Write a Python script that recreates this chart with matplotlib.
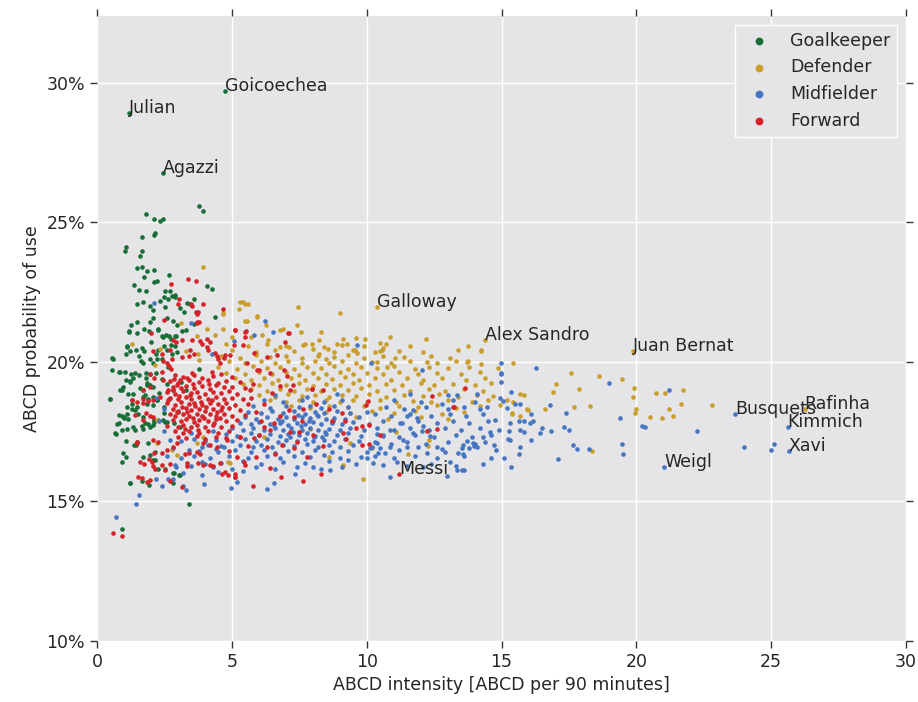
import matplotlib
matplotlib.use("Agg")
import matplotlib.pyplot as plt
from matplotlib.ticker import FuncFormatter

# ---------------- data (x: ABCD per 90 min, y: probability in %) ----------------
categories = ["Goalkeeper", "Defender", "Midfielder", "Forward"]
colors = ["#176e36", "#c99e2c", "#4676c2", "#d4242a"]

gk_pts = [
(4.75,29.70),(1.19,28.91),(2.45,26.76),(3.79,25.60),(3.93,25.42),(1.83,25.29),(2.13,25.11),(2.32,25.04),(2.44,25.11),
(1.67,24.47),(2.13,24.56),(2.15,24.61),(1.09,24.13),(1.04,23.97),(1.68,23.99),(1.61,23.81),(1.50,23.37),(1.67,23.39),
(1.87,23.26),(2.13,23.30),(1.74,23.06),(2.67,23.12),(2.10,22.85),(2.21,22.91),(1.38,22.75),(1.56,22.58),(1.80,22.56),
(4.09,22.73),(4.26,22.62),(2.52,22.54),(2.71,22.54),(2.62,22.25),(2.47,22.34),(2.78,22.36),(2.88,22.39),(2.90,22.32),
(3.60,22.27),(1.71,22.16),(1.48,22.07),(1.95,21.99),(2.06,21.86),(2.32,22.17),(2.52,21.96),(3.07,21.95),(3.35,22.10),
(3.46,22.07),(3.21,21.80),(4.38,21.63),(1.25,21.33),(1.48,21.42),(1.98,21.42),(2.08,21.58),(1.17,21.11),(1.50,21.05),
(1.76,21.18),(1.93,21.11),(2.25,21.20),(2.40,20.93),(2.45,20.90),(2.57,20.97),(2.68,20.94),(2.89,20.92),(2.97,21.33),
(3.31,21.15),(2.00,20.73),(1.11,20.56),(1.67,20.50),(2.47,20.58),(2.74,20.62),(2.90,20.57),(3.58,21.35),(2.58,21.57),
(2.81,21.46),(2.27,21.16),(3.14,21.11),(2.93,20.92),(2.73,20.83),(1.10,20.52),(1.07,20.30),(1.22,20.40),(1.45,20.44),
(1.74,20.40),(2.17,20.30),(2.27,20.42),(2.58,20.44),(2.77,20.30),(2.98,20.35),(0.61,20.12),(1.57,20.21),(1.65,20.03),
(1.72,19.95),(1.97,20.12),(2.09,19.97),(2.21,20.11),(2.40,20.12),(2.65,19.82),(0.54,19.73),(0.83,19.65),(1.04,19.65),
(1.25,19.56),(1.41,19.61),(1.57,19.53),(1.82,19.61),(1.82,19.41),(1.97,19.56),(1.07,19.37),(1.22,19.32),(1.35,19.41),
(1.84,19.23),(1.97,19.17),(2.09,19.11),(0.85,18.99),(0.98,19.11),(1.16,18.85),(1.29,18.63),(1.35,18.87),(1.72,18.99),
(1.72,18.75),(1.90,18.69),(2.09,18.75),(0.48,18.69),(1.10,18.39),(1.29,18.33),(1.47,18.39),(1.84,18.51),(2.09,18.45),
(2.21,18.63),(0.91,18.06),(1.10,18.15),(1.53,18.13),(1.72,18.03),(3.77,19.76),(0.80,18.09),(1.00,18.03),(1.15,17.97),
(0.75,17.79),(0.93,17.58),(1.13,17.60),(1.35,17.67),(1.41,17.56),(1.66,17.70),(1.69,17.60),(1.90,17.79),(2.09,17.73),
(2.11,17.84),(2.27,17.91),(2.46,17.91),(2.58,17.85),(0.70,17.41),(1.07,17.18),(1.44,17.02),(1.90,17.08),(0.95,16.75),
(1.07,16.61),(0.93,16.43),(1.72,16.61),(1.97,16.67),(2.09,16.49),(2.15,16.78),(2.27,16.15),(2.52,16.18),(3.08,15.95),
(2.83,16.03),(1.22,15.68),(1.66,15.75),(1.94,15.59),(2.83,15.65),(3.42,14.91),(0.91,14.03),(1.21,15.67),(1.17,21.08),
(0.56,20.13),(0.87,19.65),(1.24,19.29),(0.49,18.69),(0.93,18.99),(1.61,19.05),(1.85,19.17),(1.79,18.81),(1.30,18.51),
(1.42,18.28),(0.99,17.98),(0.80,17.80),(0.68,17.44),(1.48,17.14),(1.36,17.02),(1.98,17.68),(2.10,17.91),(1.79,17.82),
(2.47,18.16),(2.66,18.69),(2.22,18.63),(2.53,17.86),(2.84,17.80),(3.09,17.68),(3.03,15.95),(2.84,16.01),(2.16,16.48),
(2.20,19.60),(2.40,19.40),(2.60,19.20),(2.80,19.00),(2.30,18.90),(2.50,18.40),(3.00,18.20),(3.10,19.30),(3.30,19.00),
]

df_pts = [
(10.37,21.97),(14.39,20.78),(19.86,20.40),(26.24,18.32),
(13.77,20.04),(14.23,19.93),(15.41,19.98),(14.88,19.80),(17.56,19.60),(18.62,19.51),(19.47,19.39),(17.02,19.22),
(16.90,18.92),(17.87,19.04),(15.68,18.84),(15.82,18.81),(19.90,19.07),(19.89,18.73),(20.74,18.90),(21.08,18.89),
(21.74,19.00),(21.64,18.50),(22.81,18.46),(21.22,18.31),(19.99,18.30),(19.94,18.18),(20.50,18.03),(20.95,18.00),
(21.35,18.05),(18.30,18.42),(17.69,18.39),(16.61,18.33),(15.93,18.30),(16.00,18.28),(15.70,18.05),(15.40,18.13),
(15.39,18.18),(18.37,16.80),(14.95,18.47),(15.19,18.62),(15.44,18.58),(13.77,20.58),(14.23,20.42),
(7.45,21.96),(9.00,21.77),(7.43,21.32),(7.56,21.09),(8.31,21.09),(9.95,20.84),(10.86,20.88),(12.20,20.81),(8.24,20.78),
(10.49,20.68),(10.60,20.50),(10.50,20.40),(9.13,20.84),(11.06,20.16),(13.39,20.43),(14.23,20.39),(13.73,20.00),(12.22,20.00),
(3.94,23.41),(3.13,21.41),(4.66,21.72),(4.67,21.20),(5.28,21.90),(5.31,22.15),(5.50,22.08),(5.93,21.63),(5.49,21.48),
(1.29,20.63),(6.91,21.17),(9.61,20.85),(5.43,22.15),(5.61,22.09),(5.92,21.64),(5.58,21.47),(6.25,21.33),(6.79,21.16),
(5.70,20.90),(6.11,20.96),(6.35,20.80),(6.79,20.52),(7.13,20.52),(7.65,20.60),(7.96,20.66),(8.58,20.48),(8.89,20.66),
(9.27,20.66),(9.57,20.42),(9.63,20.33),(10.56,20.42),(8.24,20.30),(8.49,20.12),(10.37,20.00),(10.74,19.82),
(4.07,21.18),(4.68,21.74),(4.37,20.98),(3.70,20.94),(2.34,20.48),(3.30,20.38),(3.76,20.30),(4.99,20.89),(2.16,19.89),
(3.77,20.07),(2.22,17.91),(2.21,17.08),(2.95,16.66),(4.85,16.40),(3.94,17.32),(2.78,16.84),(3.71,17.08),(4.94,16.37),
(6.20,17.30),(7.90,17.60),(9.40,17.10),(11.10,17.50),(12.30,17.20),(10.20,16.90),(8.60,16.60),(9.13,16.30),(9.87,15.80),
(11.54,16.72),(12.28,17.00),
(4.80,20.63),(5.60,20.57),(6.30,20.66),(7.00,20.58),(7.70,20.64),(8.40,20.55),(9.10,20.62),(9.90,20.57),(10.70,20.65),(11.60,20.56),
(5.00,20.42),(5.90,20.36),(6.60,20.44),(7.30,20.38),(8.00,20.45),(8.80,20.35),(9.50,20.43),(10.30,20.37),(11.20,20.41),(12.10,20.36),
(4.60,20.22),(5.30,20.16),(5.90,20.24),(6.40,20.17),(7.00,20.23),(7.60,20.15),(8.20,20.22),(8.80,20.18),(9.30,20.25),(9.90,20.16),
(10.60,20.21),(11.40,20.17),(12.40,20.23),(13.10,20.15),
(4.90,20.02),(5.50,19.96),(6.10,20.04),(6.60,19.97),(7.10,20.03),(7.60,19.95),(8.10,20.02),(8.60,19.98),(9.10,20.05),(9.60,19.96),
(10.20,20.01),(10.90,19.97),(11.60,20.04),(12.60,19.96),(13.30,20.02),
(4.50,19.82),(5.20,19.76),(5.80,19.84),(6.30,19.77),(6.80,19.83),(7.30,19.75),(7.80,19.82),(8.30,19.78),(8.80,19.85),(9.30,19.76),
(9.80,19.81),(10.40,19.77),(11.00,19.84),(11.80,19.76),(12.30,19.82),(13.00,19.77),(13.80,19.83),
(4.80,19.62),(5.50,19.56),(6.00,19.64),(6.50,19.57),(7.00,19.63),(7.50,19.55),(8.00,19.62),(8.50,19.58),(9.00,19.65),(9.50,19.56),
(10.00,19.61),(10.60,19.57),(11.20,19.64),(11.90,19.56),(12.60,19.62),(13.50,19.57),(14.20,19.63),
(5.10,19.42),(5.70,19.36),(6.20,19.44),(6.70,19.37),(7.20,19.43),(7.70,19.35),(8.20,19.42),(8.70,19.38),(9.20,19.45),(9.70,19.36),
(10.30,19.41),(10.90,19.37),(11.50,19.44),(12.10,19.36),(12.80,19.42),(13.70,19.37),(14.40,19.43),
(5.40,19.22),(6.00,19.16),(6.50,19.24),(7.00,19.17),(7.50,19.23),(8.00,19.15),(8.50,19.22),(9.00,19.18),(9.50,19.25),(10.10,19.16),
(10.70,19.21),(11.30,19.17),(12.00,19.24),(12.50,19.16),(13.20,19.22),(14.00,19.17),(14.60,19.23),
(5.70,19.02),(6.30,18.96),(6.80,19.04),(7.30,18.97),(7.80,19.03),(8.30,18.95),(8.80,19.02),(9.30,18.98),(9.80,19.05),(10.40,18.96),
(11.00,19.01),(11.60,18.97),(12.30,19.04),(12.90,18.96),(13.60,19.02),(14.30,18.97),
(6.00,18.82),(6.60,18.76),(7.10,18.84),(7.60,18.77),(8.10,18.83),(8.60,18.75),(9.10,18.82),(9.60,18.78),(10.10,18.85),(10.70,18.76),
(11.40,18.81),(12.10,18.77),(12.70,18.84),(13.40,18.76),(14.10,18.82),(14.70,18.77),
(6.40,18.62),(7.00,18.56),(7.50,18.64),(8.00,18.57),(8.50,18.63),(9.00,18.55),(9.50,18.62),(10.00,18.58),(10.50,18.65),(11.10,18.56),
(11.70,18.61),(12.40,18.57),(13.00,18.64),(13.90,18.56),(14.50,18.62),
(7.20,18.42),(7.90,18.36),(8.60,18.44),(9.30,18.37),(9.90,18.43),(10.50,18.35),(11.20,18.42),(11.90,18.38),(12.60,18.45),(13.30,18.36),(14.20,18.41),
(8.50,18.22),(9.40,18.16),(10.20,18.24),(11.00,18.17),(11.80,18.23),(12.80,18.15),(13.60,18.22),
(9.60,18.02),(10.80,17.96),(12.00,18.04),(13.00,17.97),
]

mf_pts = [
(21.04,16.23),(23.67,18.12),(25.61,17.68),(25.66,16.82),
(14.98,19.97),(16.29,19.77),(14.97,19.56),(14.99,19.28),(18.98,19.25),(21.22,19.01),(15.35,18.91),(15.04,18.60),
(15.67,18.48),(15.50,18.48),(16.80,18.45),(15.21,18.36),(17.39,18.18),(16.08,18.12),(19.40,17.99),(15.65,17.90),
(15.85,17.89),(16.17,17.87),(16.07,17.82),(15.33,17.82),(17.32,17.66),(16.49,17.65),(17.51,17.57),(15.68,17.55),
(15.28,17.54),(15.82,17.48),(16.82,17.52),(16.41,17.47),(16.08,17.22),(15.25,17.25),(15.30,17.21),(17.64,17.02),
(17.81,16.89),(18.23,16.89),(15.68,16.97),(19.48,17.07),(19.51,16.70),(15.65,16.71),(15.11,16.56),(17.09,16.52),
(15.37,16.24),(20.20,17.70),(20.33,17.66),(22.26,17.53),(24.01,16.96),(25.00,16.84),(25.09,17.06),(13.72,17.17),
(13.99,17.00),(14.10,16.94),(14.74,17.04),(13.61,16.12),(13.56,16.71),(13.52,16.90),
(0.72,14.44),(1.45,14.91),(1.55,15.23),(2.40,15.55),(3.30,15.41),(3.18,15.55),(3.97,15.62),(4.98,15.50),(5.20,15.70),
(6.29,15.45),(6.56,15.68),(7.33,15.97),(8.00,16.24),(8.64,16.12),(10.86,15.88),(12.97,15.91),(13.36,16.12),(9.32,16.48),
(2.83,15.80),(2.65,15.80),(2.19,15.80),(2.93,16.24),
(9.65,20.60),(10.15,19.97),(12.04,19.71),(14.99,19.60),(14.95,18.72),(12.78,18.51),(13.34,18.81),(14.08,18.87),
(14.46,18.40),(14.76,17.92),(14.57,17.50),(14.33,17.32),(13.96,17.09),(13.59,17.03),(13.40,16.73),(13.09,16.43),
(13.53,16.12),(12.90,16.79),(12.59,16.97),(12.35,17.33),(12.10,17.69),(11.85,18.00),(11.73,18.29),(11.48,18.05),
(11.23,17.81),(10.86,17.57),(10.61,17.33),(10.37,17.09),(10.12,16.91),(10.00,16.55),(10.43,16.73),(10.86,16.97),
(11.36,17.21),(11.73,17.45),(12.04,17.51),(11.48,16.97),(12.22,16.73),(12.10,16.25),(11.11,16.43),(10.67,16.73),(10.24,16.37),
(2.11,22.10),(3.47,21.38),(6.23,21.46),(5.82,20.98),(6.54,21.06),(5.09,20.74),(4.25,20.30),
(4.30,16.22),(5.00,16.17),(5.90,16.24),(6.60,16.16),(7.40,16.23),(8.30,16.18),(9.10,16.25),
(3.90,16.42),(4.60,16.37),(5.40,16.44),(6.10,16.36),(6.90,16.43),(7.70,16.38),(8.60,16.45),(9.60,16.36),
(3.60,16.62),(4.20,16.56),(4.90,16.64),(5.60,16.57),(6.30,16.63),(6.80,16.55),(7.30,16.62),(7.90,16.58),(8.40,16.65),(9.00,16.56),(9.80,16.61),
(3.80,16.82),(4.50,16.76),(5.10,16.84),(5.70,16.77),(6.20,16.83),(6.60,16.75),(7.10,16.82),(7.60,16.78),(8.10,16.85),(8.70,16.76),(9.30,16.81),(10.00,16.77),
(4.10,17.02),(4.70,16.96),(5.30,17.04),(5.80,16.97),(6.10,17.03),(6.50,16.95),(6.90,17.02),(7.30,16.98),(7.80,17.05),(8.20,16.96),(8.60,17.01),(9.00,16.97),(9.50,17.04),(10.20,16.96),
(4.40,17.22),(5.00,17.16),(5.50,17.24),(5.90,17.17),(6.30,17.23),(6.70,17.15),(7.00,17.22),(7.40,17.18),(7.70,17.25),(8.00,17.16),(8.40,17.21),(8.80,17.17),(9.20,17.24),(9.70,17.16),
(4.80,17.42),(5.20,17.36),(5.70,17.44),(6.00,17.37),(6.40,17.43),(6.80,17.35),(7.10,17.42),(7.50,17.38),(7.80,17.45),(8.10,17.36),(8.50,17.41),(8.90,17.37),(9.30,17.44),(9.80,17.36),(10.40,17.42),
(5.00,17.62),(5.40,17.56),(5.80,17.64),(6.20,17.57),(6.60,17.63),(6.90,17.55),(7.20,17.62),(7.60,17.58),(7.90,17.65),(8.20,17.56),(8.60,17.61),(9.00,17.57),(9.40,17.64),(9.90,17.56),
(5.30,17.82),(5.70,17.76),(6.00,17.84),(6.40,17.77),(6.80,17.83),(7.10,17.75),(7.40,17.82),(7.70,17.78),(8.00,17.85),(8.30,17.76),(8.70,17.81),(9.10,17.77),(9.50,17.84),(10.10,17.76),
(5.50,18.02),(5.90,17.96),(6.30,18.04),(6.70,17.97),(7.00,18.03),(7.30,17.95),(7.60,18.02),(7.90,17.98),(8.20,18.05),(8.50,17.96),(8.80,18.01),(9.20,17.97),(9.70,18.04),
(5.60,18.22),(6.10,18.16),(6.50,18.24),(6.90,18.17),(7.30,18.23),(7.70,18.15),(8.10,18.22),(8.40,18.18),(8.90,18.25),(9.40,18.16),(10.00,18.21),
(5.80,18.42),(6.40,18.36),(7.00,18.44),(7.50,18.37),(7.90,18.43),(8.30,18.35),(8.80,18.42),(9.30,18.38),
(6.20,18.62),(6.90,18.56),(7.60,18.64),(8.40,18.57),(9.10,18.63),(6.60,18.82),(7.80,18.76),(8.90,18.84),
(7.25,17.50),(7.55,17.70),(7.85,17.90),(8.15,18.10),(8.45,17.50),(7.45,18.10),(8.75,17.90),(7.15,17.30),(8.35,17.30),(6.55,17.70),(6.85,17.90),(8.05,17.30),
(3.20,16.02),(3.90,15.96),(4.50,16.05),(2.90,16.32),(3.50,16.26),(4.00,16.34),(2.60,16.62),(3.10,16.57),(2.80,16.92),(3.40,16.86),
(3.90,16.94),(4.40,16.88),(2.70,17.22),(3.10,17.16),(3.60,17.24),(4.00,17.17),(2.50,17.52),(3.50,17.46),(4.30,17.54),(2.30,17.90),
(2.50,18.30),(2.20,18.70),(4.60,17.00),(5.40,16.10),
(10.60,16.32),(11.50,16.27),(12.40,16.34),(13.30,16.26),(14.30,16.33),
(10.30,16.62),(11.00,16.56),(11.80,16.64),(12.60,16.57),(13.60,16.63),(14.60,16.55),
(10.50,16.92),(11.20,16.86),(11.90,16.94),(12.80,16.87),(13.80,16.93),(14.80,16.86),
(10.30,17.12),(10.90,17.06),(11.50,17.14),(12.20,17.07),(13.00,17.13),(14.00,17.05),(14.40,17.12),
(10.60,17.37),(11.20,17.31),(11.80,17.39),(12.50,17.32),(13.30,17.38),(13.90,17.30),(14.60,17.37),
(10.40,17.62),(11.00,17.56),(11.60,17.64),(12.30,17.57),(12.90,17.63),(13.50,17.55),(14.20,17.62),(14.90,17.58),
(10.60,17.87),(11.30,17.81),(11.90,17.89),(12.60,17.82),(13.20,17.88),(13.80,17.80),(14.50,17.87),
(10.30,18.12),(10.90,18.06),(11.60,18.14),(12.40,18.07),(13.10,18.13),(13.70,18.05),(14.30,18.12),
(10.70,18.37),(11.40,18.31),(12.20,18.39),(13.00,18.32),(13.60,18.38),(14.20,18.30),
(11.00,18.62),(12.00,18.56),(13.20,18.64),(14.00,18.57),(11.60,18.87),(13.00,18.82),
]

fw_pts = [
(11.21,15.97),(0.60,13.88),(0.91,13.76),(3.14,15.53),(5.77,15.55),(6.82,15.88),(7.63,15.73),(4.62,16.00),(5.12,15.97),
(10.10,17.74),(9.81,17.71),(10.49,17.37),(12.25,17.51),(12.60,17.60),(12.41,18.78),(13.21,18.39),(13.66,19.07),(13.24,18.37),
(9.81,17.04),(10.10,17.05),(9.96,18.45),(9.10,18.18),(9.21,17.88),(8.71,17.88),(9.62,17.62),(9.23,17.23),(9.11,17.46),
(8.39,18.99),(7.97,19.04),(8.12,18.50),(7.65,18.31),(7.30,18.03),(7.28,19.16),(8.39,17.00),(8.29,16.00),(7.48,17.50),
(7.40,17.14),(5.49,21.08),(7.09,21.04),(5.42,20.60),(6.31,20.18),(5.92,19.73),(7.03,19.49),(6.79,19.13),(7.96,19.03),
(5.67,18.99),(10.04,18.60),(6.79,18.06),
(3.05,22.27),(3.00,22.09),(3.47,22.07),(3.52,22.00),(3.94,22.08),(3.67,21.78),(3.72,21.73),(4.68,21.90),(2.50,21.52),
(2.00,21.03),(3.14,20.78),(2.81,20.80),(2.93,20.70),(3.70,21.40),(3.77,21.44),(3.51,20.78),(3.82,20.76),(4.07,20.84),
(4.19,20.71),(3.88,20.63),(2.09,20.40),(2.40,20.30),(2.71,20.42),(3.45,20.44),(3.42,20.21),(3.60,20.30),(4.13,20.44),
(4.44,20.21),(4.50,20.12),(4.75,20.24),(4.56,19.95),(5.12,21.14),(2.46,20.05),(2.77,20.11),(2.58,19.97),(2.68,19.85),
(2.73,19.76),(3.14,20.18),(1.97,19.56),(2.11,19.44),(2.40,19.65),(2.46,19.34),(3.08,19.34),(3.33,19.41),(3.51,19.59),
(1.72,18.99),(1.97,19.11),(1.69,18.69),(2.34,18.75),(2.65,18.99),(2.95,19.17),(2.65,18.63),(2.83,18.99),
(3.39,22.99),(3.66,22.89),(2.73,22.78),(3.69,21.44),(3.75,21.80),(5.13,21.13),(5.51,21.10),(7.11,21.04),
(1.29,18.64),(1.47,18.58),(1.72,18.52),(1.90,18.61),(2.09,18.64),(1.41,18.10),(1.82,18.16),(1.97,18.06),(2.09,18.04),
(1.72,17.91),(1.47,17.14),(1.47,17.08),(2.09,17.20),(2.27,17.14),(2.11,16.75),(2.40,16.75),(2.58,16.84),(1.94,16.51),
(2.03,16.42),(2.09,16.27),(2.15,16.18),(2.40,16.30),(2.52,16.12),(2.71,16.36),(1.59,16.42),(1.74,16.36),(1.53,15.89),
(1.66,15.83),(1.84,15.71),(1.97,15.77),(2.71,15.74),(3.33,16.37),(3.35,16.27),(3.76,16.37),(3.94,16.30),(4.19,16.30),
(4.31,16.28),(4.56,16.37),(4.75,16.04),(4.87,15.95),(5.12,15.87),(2.95,17.08),(2.83,16.97),(3.26,16.72),(3.42,16.75),
(3.70,16.78),(3.82,16.72),(3.94,17.08),(4.19,17.02),(4.44,16.97),(4.81,17.20),(5.30,17.32),
(5.32,17.32),(5.81,17.26),(6.43,17.56),(6.86,17.02),(7.17,17.50),(5.44,16.42),(5.13,15.89),(6.18,17.68),(6.30,16.96),
(6.55,17.80),(7.29,16.90),(7.11,18.28),(7.17,19.00),(6.92,19.71),(6.98,20.72),(6.67,20.24),(6.43,19.59),(6.00,19.71),
(5.56,19.95),(5.81,20.31),(5.07,20.61),(4.94,20.25),(4.70,20.13),(4.39,20.31),(5.50,20.90),(4.08,20.55),(4.26,19.65),
(5.70,18.70),(5.90,18.20),(6.10,17.90),(5.80,19.20),(6.20,18.50),(6.50,18.90),(6.00,17.40),(5.60,17.00),(6.60,16.70),
(5.90,16.60),(7.60,17.90),(8.00,17.40),(8.60,18.30),(7.80,16.60),(6.40,16.20),(5.20,16.60),(4.90,16.80),(5.50,16.30),
(2.90,19.52),(3.20,19.47),(3.60,19.55),(3.90,19.44),(4.30,19.50),(4.60,19.58),(5.00,19.46),
(2.70,19.31),(3.00,19.26),(3.40,19.34),(3.80,19.28),(4.10,19.36),(4.50,19.24),(4.80,19.33),(5.30,19.27),
(2.80,19.12),(3.10,19.06),(3.30,19.15),(3.60,19.08),(3.90,19.13),(4.20,19.04),(4.40,19.16),(4.70,19.09),(5.00,19.12),(5.50,19.05),
(2.60,18.92),(2.90,18.87),(3.20,18.95),(3.50,18.88),(3.70,18.93),(4.00,18.86),(4.30,18.94),(4.60,18.89),(4.90,18.95),(5.20,18.86),
(2.70,18.72),(3.00,18.67),(3.30,18.74),(3.50,18.66),(3.80,18.73),(4.10,18.68),(4.40,18.75),(4.70,18.69),(5.00,18.72),(5.40,18.66),
(2.60,18.52),(2.90,18.47),(3.10,18.55),(3.40,18.48),(3.60,18.53),(3.90,18.46),(4.20,18.54),(4.50,18.49),(4.80,18.52),(5.10,18.45),(5.60,18.51),
(2.80,18.31),(3.00,18.26),(3.30,18.34),(3.50,18.27),(3.80,18.33),(4.00,18.25),(4.30,18.32),(4.60,18.28),(4.90,18.35),(5.30,18.27),
(2.70,18.12),(2.90,18.06),(3.20,18.14),(3.40,18.07),(3.70,18.13),(3.90,18.05),(4.20,18.12),(4.40,18.08),(4.70,18.14),(5.00,18.06),(5.50,18.11),
(2.80,17.92),(3.10,17.87),(3.30,17.94),(3.60,17.86),(3.80,17.93),(4.10,17.88),(4.40,17.95),(4.80,17.87),(5.20,17.92),
(2.60,17.72),(3.00,17.67),(3.20,17.74),(3.50,17.66),(3.70,17.73),(4.00,17.68),(4.30,17.74),(4.60,17.66),(5.00,17.71),
(2.90,17.52),(3.20,17.46),(3.40,17.54),(3.80,17.47),(4.10,17.53),(4.50,17.45),(4.90,17.51),
(3.00,17.31),(3.30,17.26),(3.70,17.33),(4.00,17.25),(4.40,17.32),(4.80,17.27),
(3.05,18.78),(3.45,18.80),(3.85,18.58),(4.25,18.62),(3.15,18.38),(3.65,18.42),(4.05,18.40),(4.45,18.20),(3.55,18.00),
(3.95,17.98),(4.35,17.80),(3.25,17.60),(3.75,17.58),(4.15,19.20),(3.55,19.20),(4.55,18.00),(3.35,18.20),(2.95,18.20),
(4.65,18.40),(2.85,19.40),
]

label_names = ["Goicoechea", "Julian", "Agazzi", "Galloway", "Alex Sandro", "Juan Bernat",
               "Messi", "Weigl", "Busquets", "Rafinha", "Kimmich", "Xavi"]
label_x = [4.75, 1.19, 2.45, 10.37, 14.39, 19.86, 11.21, 21.04, 23.67, 26.24, 25.61, 25.66]
label_y = [29.70, 28.91, 26.76, 21.97, 20.78, 20.40, 15.97, 16.23, 18.12, 18.32, 17.68, 16.82]

x_ticks = [0, 5, 10, 15, 20, 25, 30]
y_ticks = [10, 15, 20, 25, 30]

# ---------------- figure ----------------
BG = "#e5e5e7"
TXT = "#262626"
FS = 12.5

fig = plt.figure(figsize=(9.18, 7.02), dpi=100)
ax = fig.add_axes([97 / 918, 61 / 702, 809 / 918, 625 / 702])
ax.set_facecolor(BG)
for s in ax.spines.values():
    s.set_visible(False)
ax.grid(True, color="white", linewidth=1.0)
ax.set_axisbelow(True)

all_pts = [gk_pts, df_pts, mf_pts, fw_pts]
for i, (name, col, pts) in enumerate(zip(categories, colors, all_pts)):
    xs = [p[0] for p in pts]
    ys = [p[1] for p in pts]
    ax.scatter(xs, ys, s=11, c=col, linewidths=0, label=name, zorder=2 + i)

for name, x, y in zip(label_names, label_x, label_y):
    ax.text(x, y, name, fontsize=FS, color=TXT, zorder=10)

ax.set_xlim(0, 30)
ax.set_ylim(10, 32.4)
ax.set_xticks(x_ticks)
ax.set_yticks(y_ticks)
ax.yaxis.set_major_formatter(FuncFormatter(lambda v, p: f"{v:.0f}%"))
ax.tick_params(which="both", direction="out", top=True, right=True, length=5,
               width=1, color="#333333", labelsize=FS, labelcolor=TXT)

ax.set_xlabel("ABCD intensity [ABCD per 90 minutes]", fontsize=FS, color=TXT)
ax.set_ylabel("ABCD probability of use", fontsize=FS, color=TXT)

leg = ax.legend(loc="upper right", fontsize=FS, markerscale=1.7, scatterpoints=1,
                frameon=True, fancybox=False, facecolor=BG, edgecolor="white",
                framealpha=1.0)
for t in leg.get_texts():
    t.set_color(TXT)
leg.set_zorder(20)

fig.savefig("out.png", dpi=100, facecolor="white")
